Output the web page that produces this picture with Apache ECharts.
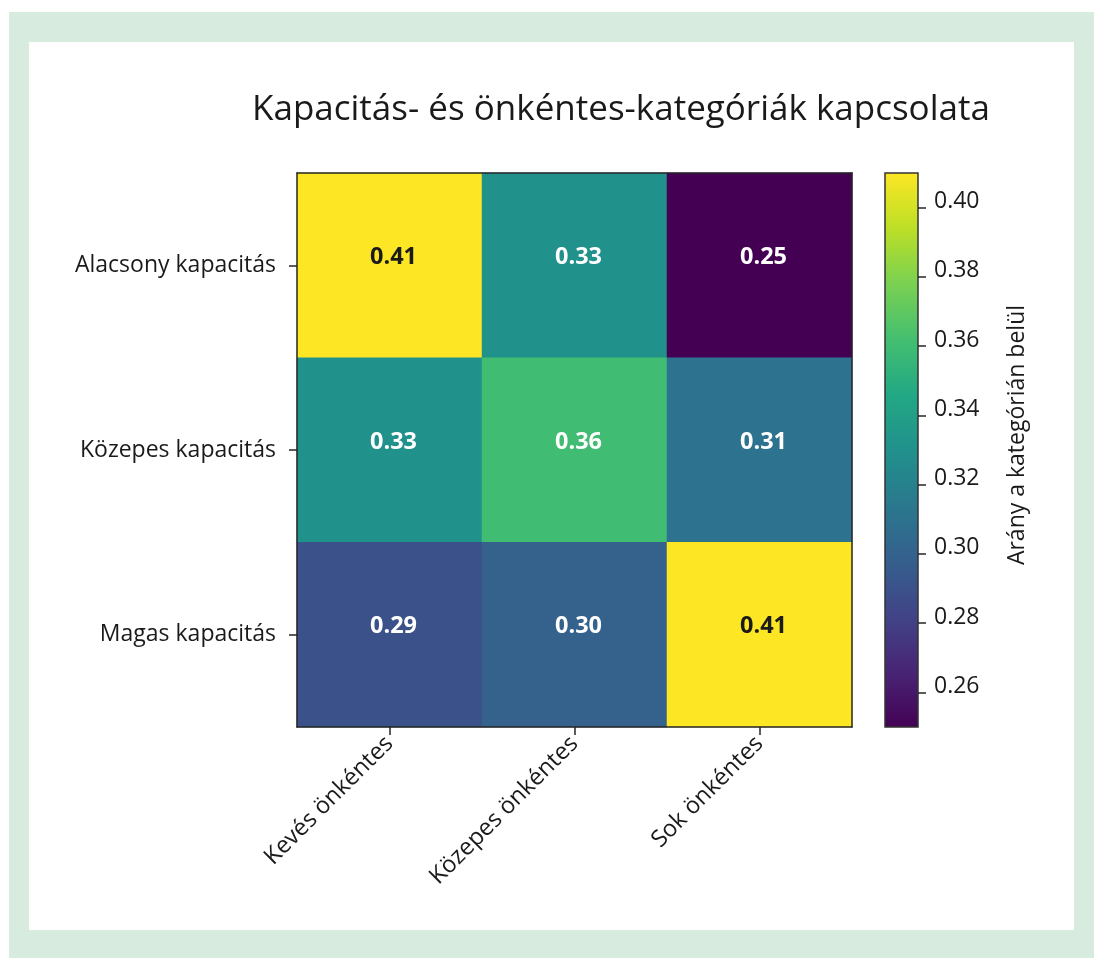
<!DOCTYPE html>
<html>
<head>
<meta charset="utf-8">
<script src="https://cdn.jsdelivr.net/npm/echarts@6/dist/echarts.min.js"></script>
<style>
  html, body { margin: 0; padding: 0; background: #fff; }
  #chart { width: 1094px; height: 958px; }
</style>
</head>
<body>
<div id="chart"></div>
<script>
// 数据
const volunteerCats = ['Kevés önkéntes', 'Közepes önkéntes', 'Sok önkéntes'];
const capacityCats = ['Alacsony kapacitás', 'Közepes kapacitás', 'Magas kapacitás'];
const shareLow = [0.41, 0.33, 0.25];
const shareMid = [0.33, 0.36, 0.31];
const shareHigh = [0.29, 0.30, 0.41];
const colorbarTicks = [0.26, 0.28, 0.30, 0.32, 0.34, 0.36, 0.38, 0.40];

// viridis
const viridis = ['#440154', '#482475', '#414487', '#355f8d', '#2a788e', '#21918c',
  '#22a884', '#44bf70', '#7ad151', '#bddf26', '#fde725'];

const rows = [shareLow, shareMid, shareHigh];
const heatData = [];
rows.forEach((row, yi) => {
  row.forEach((v, xi) => heatData.push([xi, yi, v]));
});
const allVals = rows.flat();
const vmin = Math.min(...allVals);
const vmax = Math.max(...allVals);

const FONT = '"Open Sans", "DejaVu Sans", sans-serif';
const INK = '#1a1a1a';
const LINE = '#262626';

const chart = echarts.init(document.getElementById('chart'));

const option = {
  backgroundColor: '#ffffff',
  animation: false,
  graphic: [
    { type: 'rect', z: -10, shape: { x: 9, y: 12, width: 1085, height: 946 }, style: { fill: '#d7ecde' } },
    { type: 'rect', z: -9, shape: { x: 29, y: 42, width: 1045, height: 888 }, style: { fill: '#ffffff' } },
  ],
  title: {
    text: 'Kapacitás- és önkéntes-kategóriák kapcsolata',
    left: 247,
    top: 88,
    textStyle: { fontFamily: FONT, fontSize: 35, fontWeight: 'normal', color: INK },
  },
  visualMap: {
    type: 'continuous',
    show: false,
    seriesIndex: 0,
    min: vmin,
    max: vmax,
    inRange: { color: viridis },
  },
  grid: [
    { left: 297, top: 173, width: 555, height: 554 },
    { left: 885, top: 173, width: 33, height: 554 },
  ],
  xAxis: [
    {
      type: 'category', gridIndex: 0, data: volunteerCats, position: 'bottom', z: 10,
      axisLine: { show: true, lineStyle: { color: LINE, width: 1.5 } },
      axisTick: { show: true, alignWithLabel: true, length: 8, lineStyle: { color: LINE, width: 1.5 } },
      axisLabel: { rotate: 45, margin: 13, fontFamily: FONT, fontSize: 23.5, color: INK, interval: 0 },
      splitLine: { show: false },
    },
    {
      type: 'category', gridIndex: 0, data: volunteerCats, position: 'top', z: 10,
      axisLine: { show: true, lineStyle: { color: LINE, width: 1.5 } },
      axisTick: { show: false }, axisLabel: { show: false },
    },
    {
      type: 'value', gridIndex: 1, min: 0, max: 1, show: false,
      axisLine: { onZero: false },
    },
  ],
  yAxis: [
    {
      type: 'category', gridIndex: 0, data: capacityCats, inverse: true, position: 'left', z: 10,
      axisLine: { show: true, lineStyle: { color: LINE, width: 1.5 } },
      axisTick: { show: true, alignWithLabel: true, length: 8, lineStyle: { color: LINE, width: 1.5 } },
      axisLabel: { margin: 21, fontFamily: FONT, fontSize: 23, color: INK, interval: 0 },
      splitLine: { show: false },
    },
    {
      type: 'category', gridIndex: 0, data: capacityCats, inverse: true, position: 'right', z: 10,
      axisLine: { show: true, lineStyle: { color: LINE, width: 1.5 } },
      axisTick: { show: false }, axisLabel: { show: false },
    },
    {
      type: 'value', gridIndex: 1, min: vmin, max: vmax, position: 'right', z: 10,
      name: 'Arány a kategórián belül',
      nameLocation: 'middle',
      nameGap: 88,
      nameTextStyle: { fontFamily: FONT, fontSize: 23, color: INK, padding: [0, 0, 0, 30] },
      axisLine: { show: false, onZero: false },
      axisTick: { show: true, inside: false, length: 8, customValues: colorbarTicks, lineStyle: { color: LINE, width: 1.5 } },
      axisLabel: {
        margin: 16, color: INK,
        customValues: colorbarTicks,
        formatter: (v) => '{t|' + v.toFixed(2) + '}',
        rich: {
          t: { fontFamily: FONT, fontSize: 23, color: INK, padding: [0, 0, 12, 0] },
        },
      },
      splitLine: { show: false },
    },
  ],
  series: [
    {
      type: 'heatmap',
      xAxisIndex: 0,
      yAxisIndex: 0,
      data: heatData.map((d) => ({
        value: d,
        // 高值用深色文字
        label: d[2] > 0.39 ? { color: INK } : undefined,
      })),
      itemStyle: { borderWidth: 0 },
      label: {
        show: true,
        fontFamily: FONT,
        fontSize: 23.5,
        fontWeight: 'bold',
        offset: [4, -8],
        formatter: (p) => p.value[2].toFixed(2),
        color: '#ffffff',
      },
    },
    {
      // 色条
      type: 'custom',
      xAxisIndex: 2,
      yAxisIndex: 2,
      data: [[vmin, vmax]],
      silent: true,
      z: 1,
      renderItem: (params, api) => {
        const p0 = api.coord([0, api.value(0)]);
        const p1 = api.coord([1, api.value(1)]);
        const stops = viridis.map((c, i) => ({ offset: i / (viridis.length - 1), color: c }));
        return {
          type: 'rect',
          shape: { x: p0[0], y: p1[1], width: p1[0] - p0[0], height: p0[1] - p1[1] },
          style: {
            fill: new echarts.graphic.LinearGradient(0, 1, 0, 0, stops),
            stroke: '#333333',
            lineWidth: 1.5,
          },
        };
      },
    },
  ],
};

chart.setOption(option);
</script>
</body>
</html>
